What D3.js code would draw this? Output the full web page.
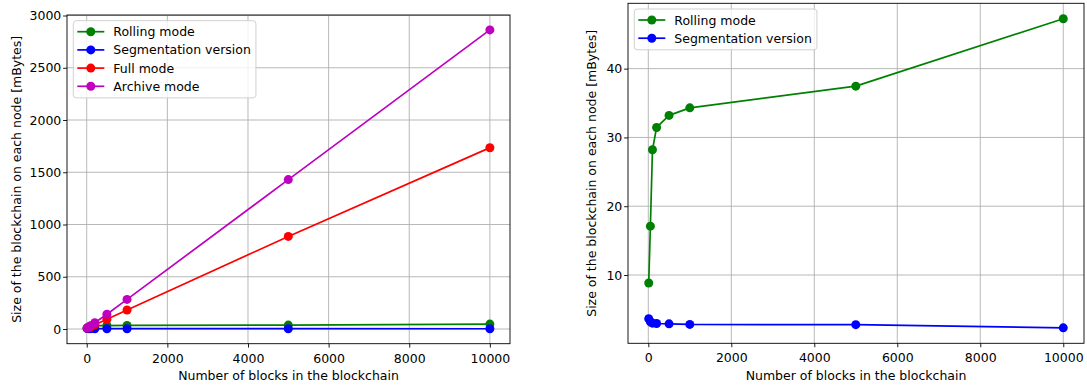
<!DOCTYPE html>
<html>
<head>
<meta charset="utf-8">
<script src="https://cdn.jsdelivr.net/npm/d3@7/dist/d3.min.js"></script>
<style>
  html, body { margin: 0; padding: 0; background: #fff; }
  svg { display: block; font-family: "DejaVu Sans", sans-serif; }
</style>
</head>
<body>
<svg id="fig" width="1087" height="385"></svg>
<script>
// Number of blocks in the chain (x values shared by every series)
const blocks = [10, 50, 100, 200, 500, 1000, 5000, 10000];

// Storage per node, in mBytes
const rolling      = [8.84, 17.1, 28.2, 31.45, 33.2, 34.3, 37.45, 47.25];
const segmentation = [3.65, 3.2, 3.0, 2.95, 2.9, 2.82, 2.78, 2.32];
const fullMode     = [8.9, 14, 22, 40, 93, 182, 886, 1735];
const archive      = [9.5, 18, 32, 60, 141, 283, 1430, 2862];

const xTicks      = [0, 2000, 4000, 6000, 8000, 10000];
const leftYTicks  = [0, 500, 1000, 1500, 2000, 2500, 3000];
const rightYTicks = [10, 20, 30, 40];

const xTitle = "Number of blocks in the blockchain";
const yTitle = "Size of the blockchain on each node [mBytes]";

const leftSeries = [
  { name: "Rolling mode", values: rolling, color: "#008000" },
  { name: "Segmentation version", values: segmentation, color: "#0000ff" },
  { name: "Full mode", values: fullMode, color: "#ff0000" },
  { name: "Archive mode", values: archive, color: "#bf00bf" }
];
const rightSeries = leftSeries.slice(0, 2);

const FONT = 12.5;
const svg = d3.select("#fig");

// Padded extent: 5% of the data span on each side
function padded(arrs) {
  const all = arrs.flat();
  const lo = d3.min(all), hi = d3.max(all), m = (hi - lo) * 0.05;
  return [lo - m, hi + m];
}

function panel(box, series, yTicks, ylabelX) {
  const x = d3.scaleLinear().domain(padded([blocks])).range([box.x0, box.x1]);
  const y = d3.scaleLinear().domain(padded(series.map(s => s.values))).range([box.y1, box.y0]);
  const g = svg.append("g");

  // grid
  g.append("g").selectAll("line").data(xTicks).join("line")
    .attr("x1", d => x(d)).attr("x2", d => x(d))
    .attr("y1", box.y0).attr("y2", box.y1)
    .attr("stroke", "#b0b0b0").attr("stroke-width", 0.9);
  g.append("g").selectAll("line").data(yTicks).join("line")
    .attr("x1", box.x0).attr("x2", box.x1)
    .attr("y1", d => y(d)).attr("y2", d => y(d))
    .attr("stroke", "#b0b0b0").attr("stroke-width", 0.9);

  // series
  const line = d3.line().x((d, i) => x(blocks[i])).y(d => y(d));
  series.forEach(s => {
    const sg = g.append("g");
    sg.append("path").attr("d", line(s.values))
      .attr("fill", "none").attr("stroke", s.color).attr("stroke-width", 1.7)
      .attr("stroke-linejoin", "round").attr("stroke-linecap", "square");
    sg.selectAll("circle").data(s.values).join("circle")
      .attr("cx", (d, i) => x(blocks[i])).attr("cy", d => y(d))
      .attr("r", 4.5).attr("fill", s.color);
  });

  // axes
  const xa = g.append("g").attr("transform", `translate(0,${box.y1})`)
    .call(d3.axisBottom(x).tickValues(xTicks).tickFormat(d3.format("d")).tickSizeOuter(0).tickSize(3.9).tickPadding(6.2));
  const ya = g.append("g").attr("transform", `translate(${box.x0},0)`)
    .call(d3.axisLeft(y).tickValues(yTicks).tickFormat(d3.format("d")).tickSizeOuter(0).tickSize(3.9).tickPadding(1.8));
  [xa, ya].forEach(a => {
    a.select(".domain").remove();
    a.selectAll("text").attr("font-size", FONT).attr("font-family", "DejaVu Sans").attr("fill", "#000");
    a.selectAll("line").attr("stroke", "#000").attr("stroke-width", 0.9);
  });

  // frame
  g.append("rect").attr("x", box.x0).attr("y", box.y0)
    .attr("width", box.x1 - box.x0).attr("height", box.y1 - box.y0)
    .attr("fill", "none").attr("stroke", "#000").attr("stroke-width", 0.9);

  // axis titles
  g.append("text").attr("x", (box.x0 + box.x1) / 2).attr("y", 380)
    .attr("text-anchor", "middle").attr("font-size", FONT).text(xTitle);
  g.append("text").attr("transform", `translate(${ylabelX},${(box.y0 + box.y1) / 2}) rotate(-90)`)
    .attr("text-anchor", "middle").attr("font-size", FONT).text(yTitle);

  // legend
  const lg = g.append("g");
  const lx = box.x0 + 6.3, ly = box.y0 + 5.7, rowH = 18.2;
  const rect = lg.append("rect").attr("x", lx).attr("y", ly).attr("rx", 3).attr("ry", 3)
    .attr("fill", "#fff").attr("fill-opacity", 0.8)
    .attr("stroke", "#cccccc").attr("stroke-width", 0.9);
  let maxW = 0;
  series.forEach((s, i) => {
    const cy = ly + 11 + i * rowH;
    lg.append("line").attr("x1", lx + 4).attr("x2", lx + 31).attr("y1", cy).attr("y2", cy)
      .attr("stroke", s.color).attr("stroke-width", 1.7);
    lg.append("circle").attr("cx", lx + 17.5).attr("cy", cy).attr("r", 4.5).attr("fill", s.color);
    const t = lg.append("text").attr("x", lx + 40).attr("y", cy).attr("dy", "0.36em")
      .attr("font-size", FONT).text(s.name);
    maxW = Math.max(maxW, t.node().getComputedTextLength());
  });
  rect.attr("width", 40 + maxW + 5).attr("height", 22 + (series.length - 1) * rowH + 0.6);
}

panel({ x0: 67, x1: 510, y0: 15, y1: 343.7 }, leftSeries, leftYTicks, 21);
panel({ x0: 628, x1: 1084, y0: 3.3, y1: 343.3 }, rightSeries, rightYTicks, 596);
</script>
</body>
</html>
